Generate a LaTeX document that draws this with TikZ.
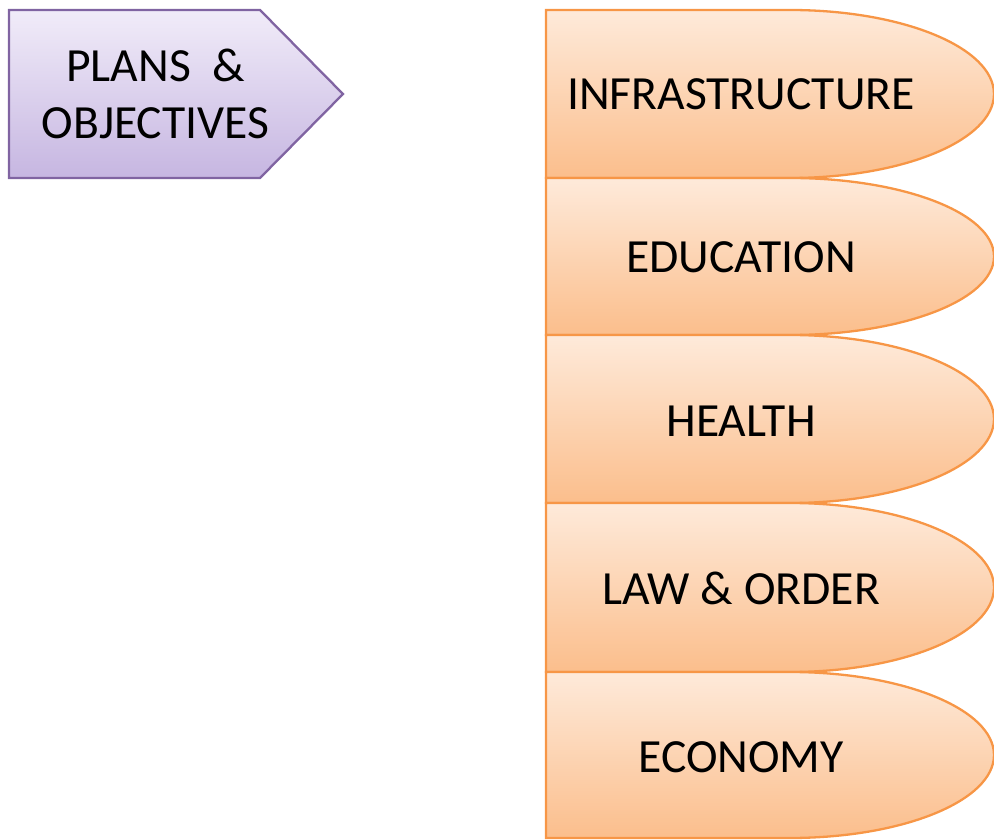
\documentclass[tikz,border=0pt]{standalone}
\usepackage{fontspec}
\setmainfont{Carlito}
\definecolor{plTop}{RGB}{241,236,249}
\definecolor{plBot}{RGB}{198,182,225}
\definecolor{plLine}{RGB}{128,100,162}
\definecolor{orTop}{RGB}{254,234,218}
\definecolor{orBot}{RGB}{251,190,140}
\definecolor{orLine}{RGB}{247,150,70}
\tikzset{
  planshape/.style={draw=plLine, line width=2.3pt, top color=plTop, bottom color=plBot, line join=miter},
  tabshape/.style={draw=orLine, line width=2.3pt, top color=orTop, bottom color=orBot},
  bigtext/.style={font=\fontsize{47.6}{57}\selectfont, inner sep=0pt, align=center, text=black},
}
\begin{document}
\begin{tikzpicture}[x=1pt,y=1pt]
\useasboundingbox (0,0) rectangle (994,839);
% pentagon
\path[planshape] (9,661) -- (9,829) -- (260,829) -- (343,745) -- (260,661) -- cycle;
\node[bigtext] (plans) at (155.5,745) {PLANS~~\&\\OBJECTIVES};
% tabs
\path[tabshape] (546,661) -- (546,829) -- (790,829) arc[start angle=90, end angle=-90, x radius=204, y radius=84] -- cycle;
\path[tabshape] (546,504) -- (546,661) -- (790,661) arc[start angle=90, end angle=-90, x radius=204, y radius=78.5] -- cycle;
\path[tabshape] (546,336) -- (546,504) -- (790,504) arc[start angle=90, end angle=-90, x radius=204, y radius=84] -- cycle;
\path[tabshape] (546,167) -- (546,336) -- (790,336) arc[start angle=90, end angle=-90, x radius=204, y radius=84.5] -- cycle;
\path[tabshape] (546,1) -- (546,167) -- (790,167) arc[start angle=90, end angle=-90, x radius=204, y radius=83] -- cycle;
\node[bigtext, anchor=base] (infra) at (741,729) {INFRASTRUCTURE};
\node[bigtext, anchor=base] (edu) at (741,566) {EDUCATION};
\node[bigtext, anchor=base] (health) at (741,402) {HEALTH};
\node[bigtext, anchor=base] (law) at (741,234) {LAW \& ORDER};
\node[bigtext, anchor=base] (eco) at (741,67) {ECONOMY};
\end{tikzpicture}
\end{document}
